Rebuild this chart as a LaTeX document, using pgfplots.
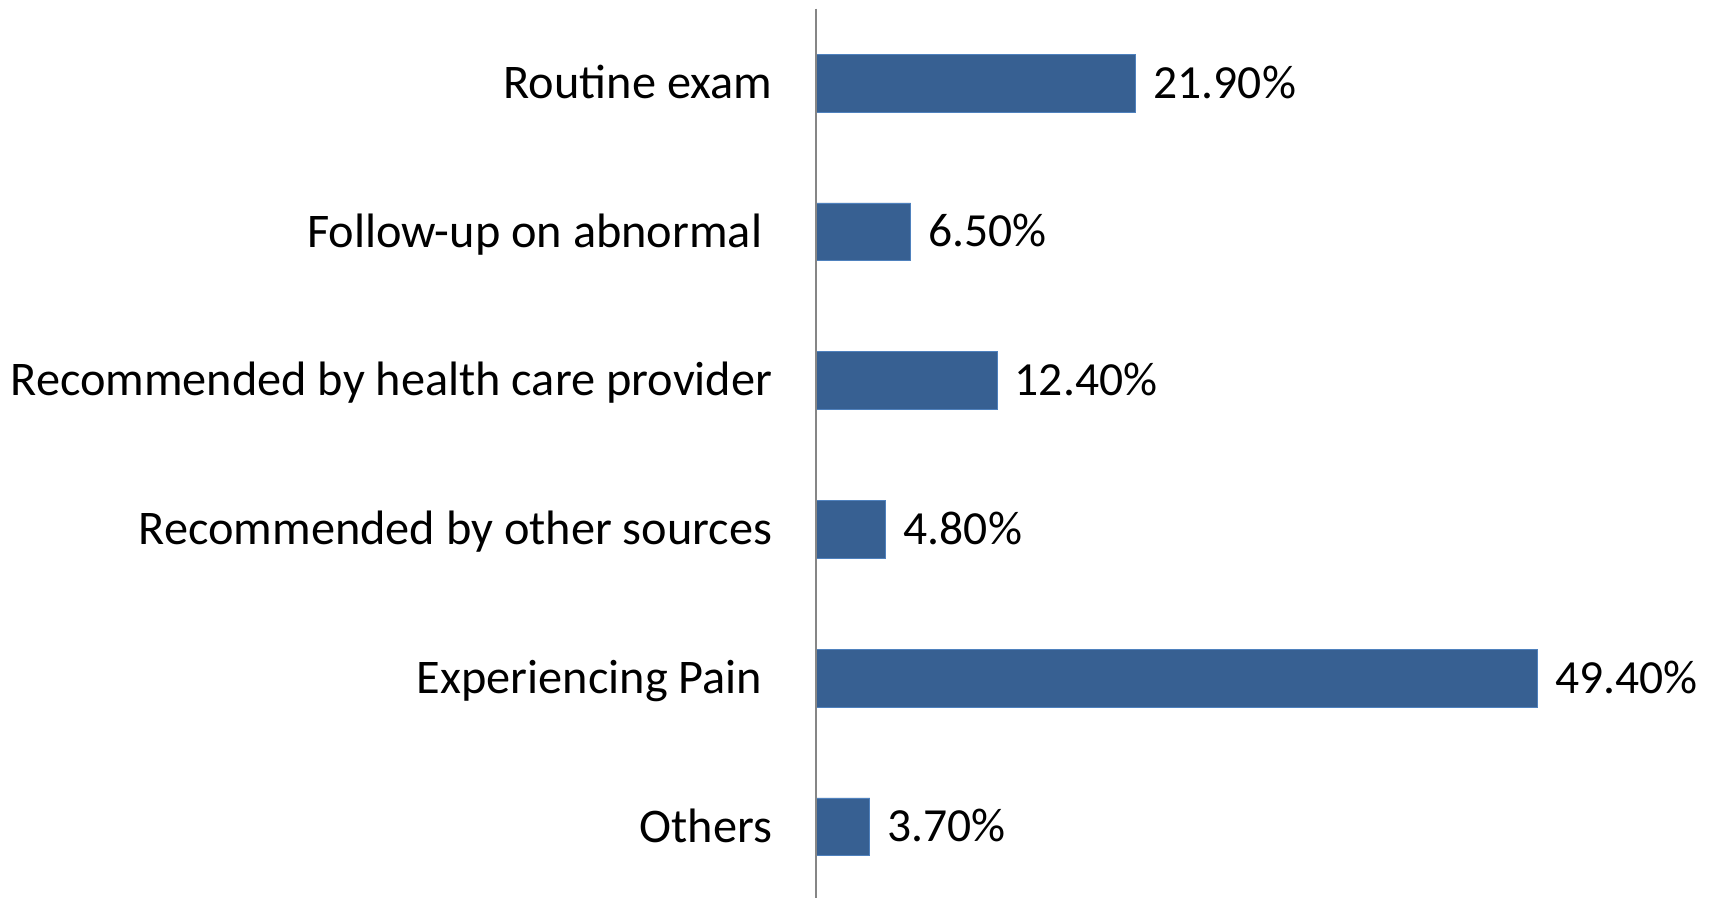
\documentclass[border=0pt]{standalone}
\usepackage{fontspec}
\setmainfont{Carlito}
\usepackage{pgfplots}
\pgfplotsset{compat=1.18}
\definecolor{barblue}{RGB}{55,96,146}
\definecolor{baredge}{RGB}{79,129,189}
\definecolor{axgray}{RGB}{134,134,134}
\begin{document}
\begin{tikzpicture}
\begin{axis}[
  xbar, scale only axis, width=402pt, height=407.5pt,
  xmin=0, xmax=60, ymin=-0.5, ymax=5.475, y dir=reverse,
  bar width=26.5pt, bar shift=0pt,
  axis x line=none, axis y line*=left,
  axis line style={axgray, line width=0.9pt},
  axis on top,
  ytick={0,1,2,3,4,5},
  yticklabels={Routine exam, {Follow-up on abnormal\kern4.5pt}, Recommended by health care provider, Recommended by other sources, {Experiencing Pain\kern4.5pt}, Others},
  ytick style={draw=none},
  yticklabel style={anchor=base east, inner sep=0pt, xshift=-15.5pt, yshift=-7pt, font=\fontsize{22.15}{26}\selectfont},
  point meta=explicit symbolic, nodes near coords,
  nodes near coords style={anchor=base west, inner sep=0pt, xshift=8pt, yshift=-6.9pt, font=\fontsize{21.8}{26}\selectfont, text=black},
]
\addplot[fill=barblue, draw=baredge, line width=0.4pt] coordinates {
  (21.9,0) [21.90\%]
  (6.5,1) [6.50\%]
  (12.4,2) [12.40\%]
  (4.8,3) [4.80\%]
  (49.4,4) [49.40\%]
  (3.7,5) [3.70\%]
};
\end{axis}
\pgfresetboundingbox
\path (current axis.south west) ++(-374pt,0pt) rectangle ++(784pt,411.5pt);
\end{tikzpicture}
\end{document}
